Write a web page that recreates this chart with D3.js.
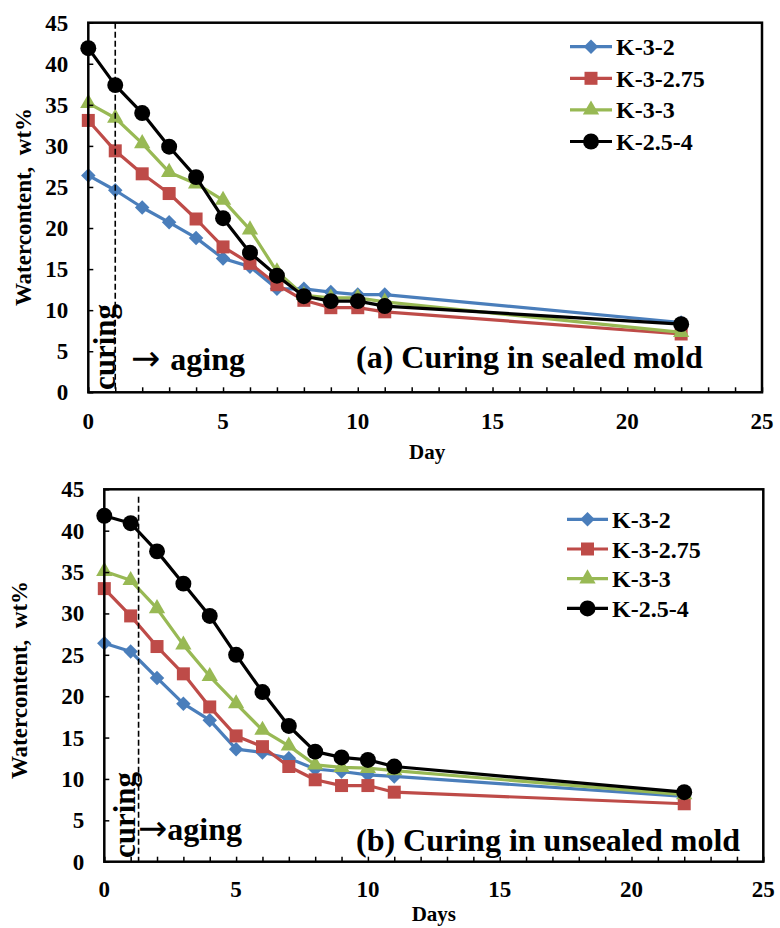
<!DOCTYPE html>
<html><head><meta charset="utf-8">
<script src="https://cdn.jsdelivr.net/npm/d3@7"></script>
<style>body{margin:0;background:#fff}svg{display:block}</style>
</head><body>
<svg id="c" width="780" height="928"></svg>
<script>
const days = [0,1,2,3,4,5,6,7,8,9,10,11,22];
const seriesNames = ["K-3-2","K-3-2.75","K-3-3","K-2.5-4"];
const sealed_K32   = [26.4, 24.6, 22.5, 20.7, 18.8, 16.3, 15.3, 12.6, 12.6, 12.2, 11.9, 11.9, 8.5];
const sealed_K3275 = [33.1, 29.4, 26.6, 24.2, 21.1, 17.7, 15.7, 13.1, 11.2, 10.3, 10.3, 9.8, 7.1];
const sealed_K33   = [35.2, 33.4, 30.3, 26.8, 25.4, 23.4, 19.8, 14.7, 11.8, 11.5, 11.5, 11.0, 7.3];
const sealed_K254  = [41.9, 37.4, 34.0, 29.9, 26.2, 21.2, 17.0, 14.2, 11.7, 11.1, 11.1, 10.5, 8.3];
const unsealed_K32   = [26.4, 25.4, 22.2, 19.1, 17.1, 13.6, 13.2, 12.5, 11.2, 10.9, 10.5, 10.3, 7.9];
const unsealed_K3275 = [33.0, 29.7, 26.0, 22.7, 18.7, 15.2, 13.9, 11.5, 9.9, 9.2, 9.2, 8.4, 7.0];
const unsealed_K33   = [35.1, 34.0, 30.6, 26.2, 22.4, 19.1, 15.9, 14.0, 11.7, 11.4, 11.3, 11.0, 8.1];
const unsealed_K254  = [41.8, 40.9, 37.5, 33.6, 29.7, 25.0, 20.5, 16.4, 13.3, 12.6, 12.3, 11.5, 8.4];
const xTicks = [0,5,10,15,20,25];
const yTicks = [0,5,10,15,20,25,30,35,40,45];
const curingDaySealed = 1;
const curingDayUnsealed = 1.3;

const colors = ["#4a7ebb","#be4b48","#98b954","#000000"];
const shapes = [d3.symbolSquare, d3.symbolSquare, d3.symbolTriangle, d3.symbolCircle];
const rotations = [45, 0, 0, 0];
const sizes = [105, 169, 115, 200];
const FONT = "'Liberation Serif','Times New Roman',serif";
const svg = d3.select("#c");

function marker(sel, i){
  sel.attr("d", d3.symbol().type(shapes[i]).size(sizes[i])).attr("fill",colors[i]);
}

function drawChart(o){
  const g = svg.append("g");
  const x = d3.scaleLinear().domain([0,25]).range([o.left,o.right]);
  const y = d3.scaleLinear().domain([0,45]).range([o.bottom,o.top]);
  o.series.forEach((vals,i)=>{
    const pts = days.map((d,j)=>[d,vals[j]]);
    g.append("path").datum(pts)
      .attr("fill","none").attr("stroke",colors[i]).attr("stroke-width",3.2)
      .attr("stroke-linejoin","round")
      .attr("d", d3.line().x(p=>x(p[0])).y(p=>y(p[1])));
    g.selectAll(null).data(pts).enter().append("path")
      .attr("transform",p=>`translate(${x(p[0])},${y(p[1])}) rotate(${rotations[i]})`)
      .call(marker, i);
  });
  g.append("line").attr("x1",x(o.curing)).attr("x2",x(o.curing))
    .attr("y1",y(o.dashTop)).attr("y2",y(0))
    .attr("stroke","#000").attr("stroke-width",1.6).attr("stroke-dasharray","6,3");
  g.append("rect").attr("x",o.left).attr("y",o.top)
    .attr("width",o.right-o.left).attr("height",o.bottom-o.top)
    .attr("fill","none").attr("stroke","#000").attr("stroke-width",2.5);
  const xa = g.append("g").attr("transform",`translate(0,${o.bottom})`)
    .call(d3.axisBottom(x).tickValues(d3.range(0,26,1)).tickSize(-5).tickFormat(""));
  xa.select(".domain").remove();
  xa.selectAll("line").attr("stroke-width",1.5);
  g.append("g").selectAll("text").data(xTicks).enter().append("text")
    .attr("x",d=>x(d)).attr("y",o.xLabelY).attr("text-anchor","middle")
    .attr("font-family",FONT).attr("font-weight","bold").attr("font-size",23).text(d=>d);
  const ya = g.append("g").attr("transform",`translate(${o.left},0)`)
    .call(d3.axisLeft(y).tickValues(yTicks).tickSize(-5).tickFormat(""));
  ya.select(".domain").remove();
  ya.selectAll("line").attr("stroke-width",1.5);
  g.append("g").selectAll("text").data(yTicks).enter().append("text")
    .attr("x",o.left-20).attr("y",d=>y(d)+8).attr("text-anchor","end")
    .attr("font-family",FONT).attr("font-weight","bold").attr("font-size",23).text(d=>d);
  g.append("text").attr("x",(o.left+o.right)/2+o.xTitleDx).attr("y",o.xTitleY).attr("text-anchor","middle")
    .attr("font-family",FONT).attr("font-weight","bold").attr("font-size",21).text(o.xTitle);
  g.append("text").attr("transform",`translate(${o.yTitleX},${o.yTitleY}) rotate(-90)`)
    .attr("text-anchor","middle").attr("font-family",FONT).attr("font-weight","bold")
    .attr("font-size",23).text("Watercontent,\u00a0\u00a0wt%");
  g.append("text").attr("transform",`translate(${o.curingTextX},${o.curingTextY}) rotate(-90)`)
    .attr("font-family",FONT).attr("font-weight","bold").attr("font-size",31).text("curing");
  const ag = g.append("text").attr("x",o.agingX).attr("y",o.agingY)
    .attr("font-family",FONT).attr("font-weight","bold").attr("font-size",32);
  ag.append("tspan").attr("font-family","'DejaVu Sans',sans-serif").attr("font-weight","normal")
    .attr("font-size",35).text("\u2192");
  ag.append("tspan").attr("dx",o.agingGap).text("aging");
  g.append("text").attr("x",o.labelX).attr("y",o.labelY)
    .attr("font-family",FONT).attr("font-weight","bold").attr("font-size",32).text(o.label);
  seriesNames.forEach((n,i)=>{
    const ly = o.legY + i*o.legStep;
    g.append("line").attr("x1",o.legX0).attr("x2",o.legX1).attr("y1",ly).attr("y2",ly)
      .attr("stroke",colors[i]).attr("stroke-width",3.2);
    g.append("path").attr("transform",`translate(${(o.legX0+o.legX1)/2},${ly}) rotate(${rotations[i]})`)
      .call(marker, i);
    g.append("text").attr("x",o.legX1+4).attr("y",ly+8.5)
      .attr("font-family",FONT).attr("font-weight","bold").attr("font-size",24).text(n);
  });
}

drawChart({left:88.3,right:762,top:22.7,bottom:392.3,
  series:[sealed_K32,sealed_K3275,sealed_K33,sealed_K254],
  curing:curingDaySealed, dashTop:45,
  xLabelY:429, xTitle:"Day", xTitleY:459, xTitleDx:2,
  yTitleX:31, yTitleY:207,
  curingTextX:115, curingTextY:390, agingX:131, agingY:370, agingGap:10,
  labelX:356, labelY:368, label:"(a) Curing in sealed mold",
  legX0:570, legX1:612, legY:46.7, legStep:31.6});

drawChart({left:104.3,right:763.3,top:489.3,bottom:861.7,
  series:[unsealed_K32,unsealed_K3275,unsealed_K33,unsealed_K254],
  curing:curingDayUnsealed, dashTop:44.1,
  xLabelY:897, xTitle:"Days", xTitleY:921, xTitleDx:0,
  yTitleX:27, yTitleY:680,
  curingTextX:135, curingTextY:858, agingX:138, agingY:840, agingGap:0,
  labelX:356, labelY:851, label:"(b) Curing in unsealed mold",
  legX0:567, legX1:608, legY:519.3, legStep:29.7});
</script>
</body></html>
